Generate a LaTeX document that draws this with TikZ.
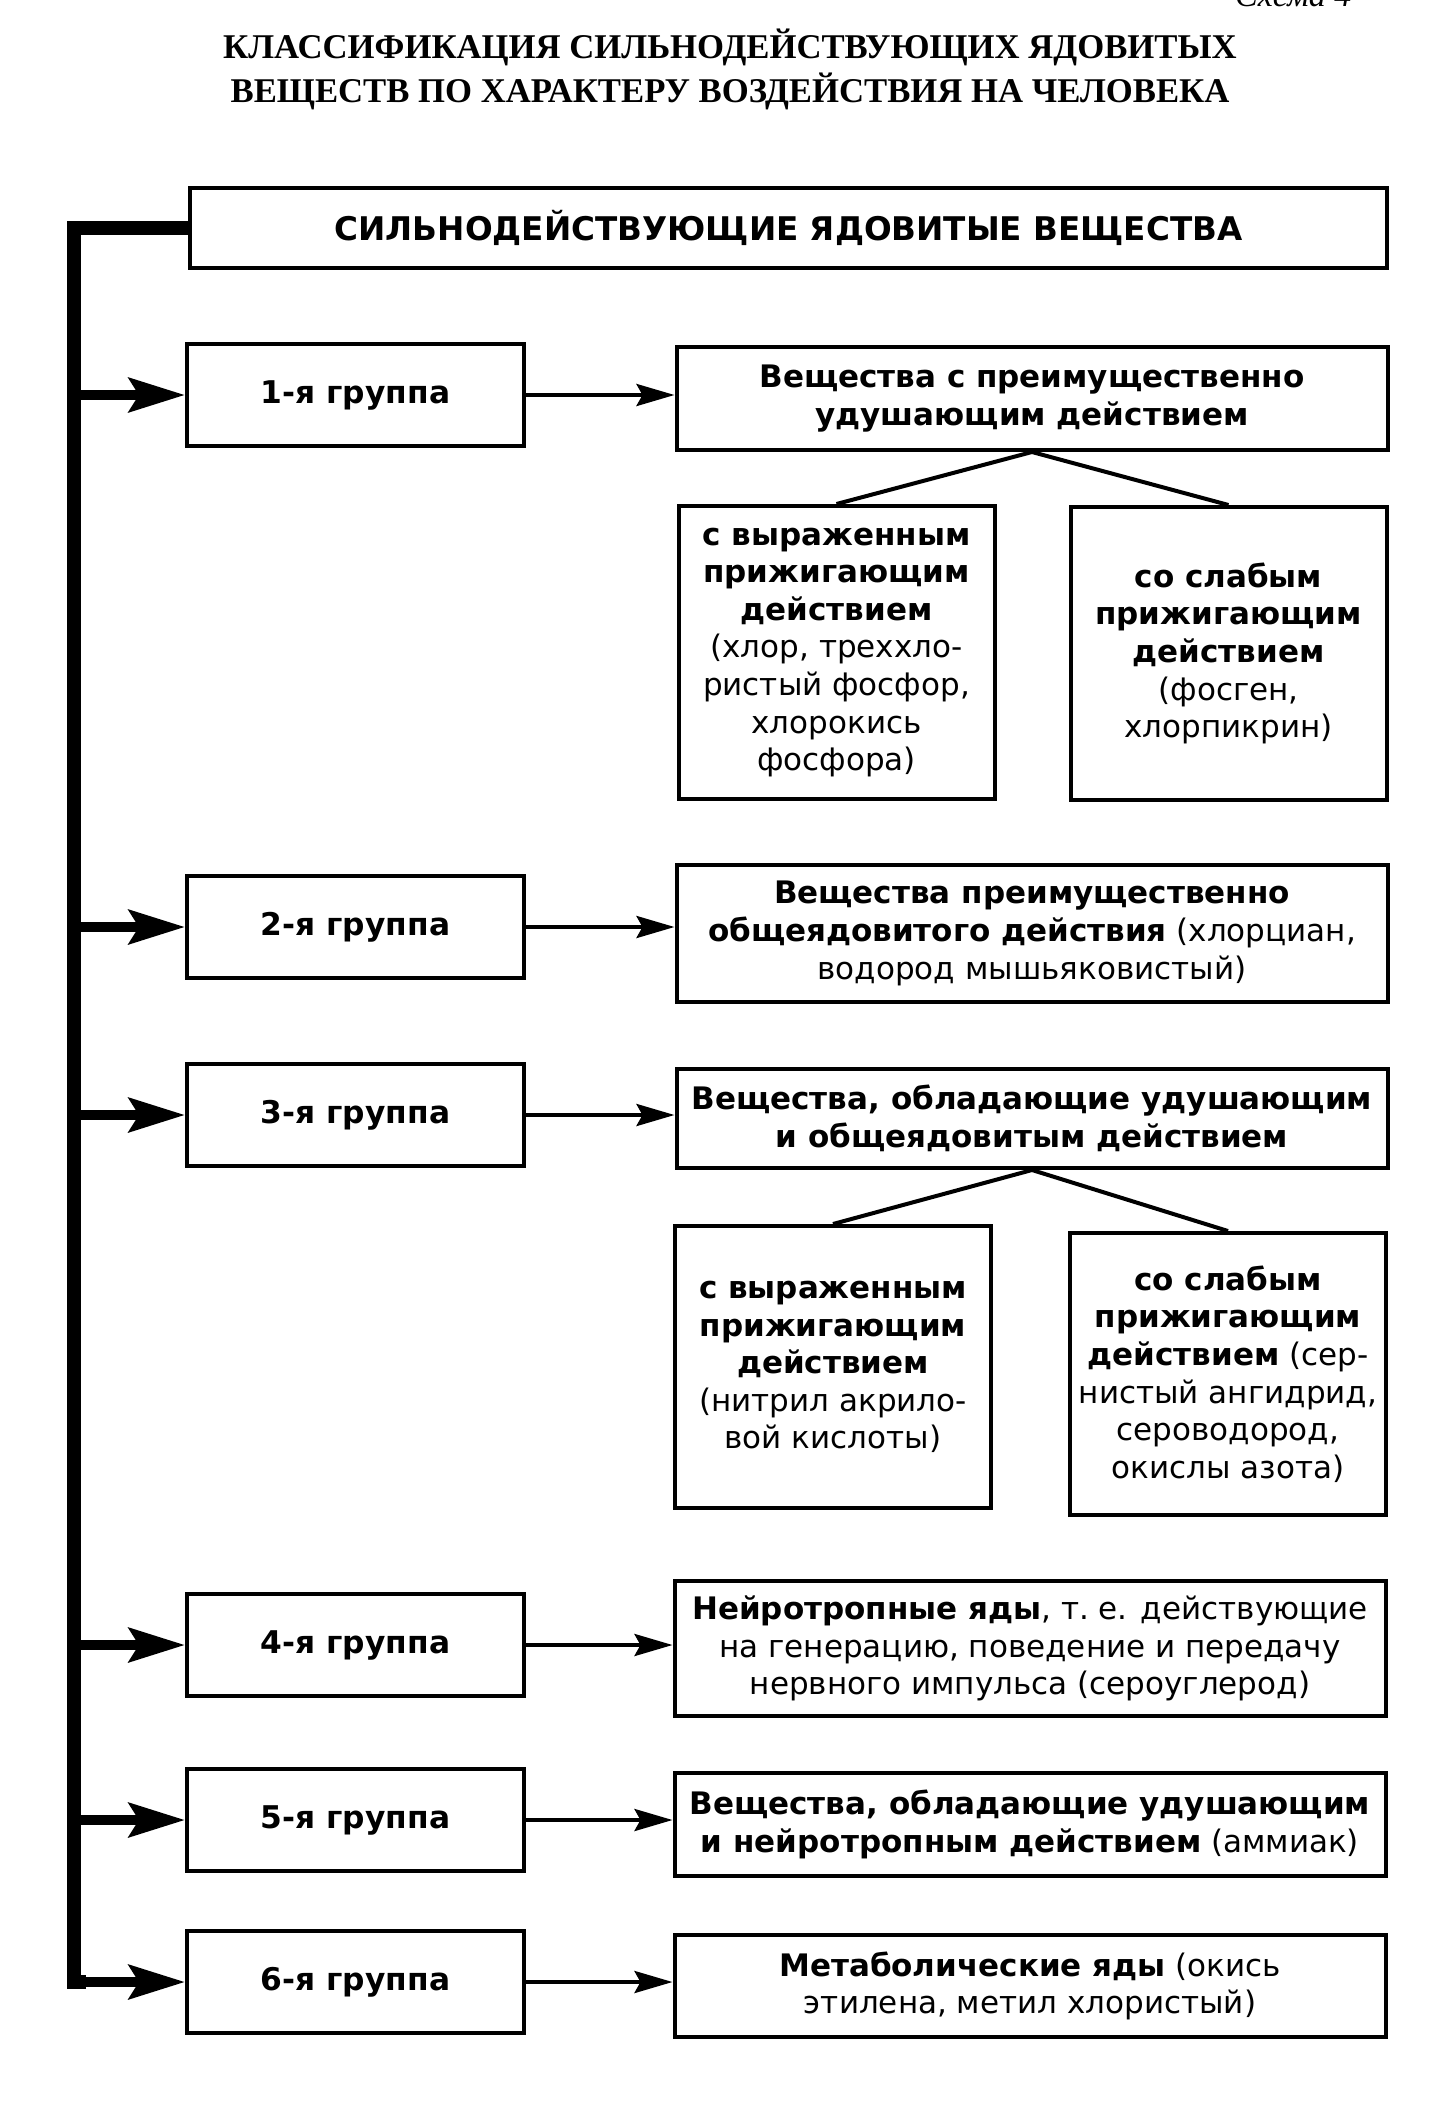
\documentclass[tikz,border=0pt]{standalone}
\usepackage{fontspec}
\setmainfont{Liberation Serif}
\newfontfamily\bodyfont{DejaVu Sans}
\usetikzlibrary{arrows.meta}
\tikzset{
  box/.style={draw, line width=4pt, align=center, inner sep=0pt,
    font=\bodyfont\fontsize{31}{37.6}\selectfont},
  grp/.style={box, minimum width=337pt, minimum height=102pt, font=\bodyfont\bfseries\fontsize{31.3}{36}\selectfont},
  desc/.style={box, minimum width=711pt},
  sub/.style={box, minimum width=316pt, minimum height=284pt},
  busline/.style={line width=14pt, line join=miter},
  bigarrow/.style={line width=10pt, -{Stealth[length=56pt,width=34pt,inset=10pt]}},
  thinarrow/.style={line width=4pt, -{Stealth[length=38pt,width=22pt,inset=6pt]}},
  branch/.style={line width=4pt},
  ttl/.style={font=\bfseries\fontsize{34.7}{42}\selectfont, inner sep=0pt}
}
\begin{document}
\begin{tikzpicture}[x=1pt,y=-1pt]
\useasboundingbox (0,0) rectangle (1450,2102);
\node[anchor=base west, font=\itshape\fontsize{34}{40}\selectfont, inner sep=0pt] (schema) at (1235,6) {Схема 4};
\node[ttl] (t1) at (730,47) {КЛАССИФИКАЦИЯ СИЛЬНОДЕЙСТВУЮЩИХ ЯДОВИТЫХ};
\node[ttl] (t2) at (730,91) {ВЕЩЕСТВ ПО ХАРАКТЕРУ ВОЗДЕЙСТВИЯ НА ЧЕЛОВЕКА};

\node[box, minimum width=1197pt, minimum height=80pt, font=\bodyfont\bfseries\fontsize{32.6}{40}\selectfont] (main) at (788.5,228) {СИЛЬНОДЕЙСТВУЮЩИЕ ЯДОВИТЫЕ ВЕЩЕСТВА};

\node[grp] (g1) at (355.5,395) {1-я группа};
\node[grp] (g2) at (355.5,927) {2-я группа};
\node[grp] (g3) at (355.5,1115) {3-я группа};
\node[grp] (g4) at (355.5,1645) {4-я группа};
\node[grp] (g5) at (355.5,1820) {5-я группа};
\node[grp] (g6) at (355.5,1982) {6-я группа};

\node[desc, minimum height=103pt] (d1) at (1032,398.5) {\bfseries Вещества с преимущественно\\\bfseries удушающим действием};
\node[desc, minimum height=137pt] (d2) at (1032,933.5) {\bfseries Вещества преимущественно\\\textbf{общеядовитого действия} (хлорциан,\\водород мышьяковистый)};
\node[desc, minimum height=99pt] (d3) at (1032,1118.5) {\bfseries Вещества, обладающие удушающим\\\bfseries и общеядовитым действием};
\node[desc, minimum height=135pt] (d4) at (1030,1648.5) {\textbf{Нейротропные яды}, т.~е. действующие\\на генерацию, поведение и передачу\\нервного импульса (сероуглерод)};
\node[desc, minimum height=103pt] (d5) at (1030,1824.5) {\bfseries Вещества, обладающие удушающим\\\textbf{и нейротропным действием} (аммиак)};
\node[desc, minimum height=102pt] (d6) at (1030,1986) {\textbf{Метаболические яды} (окись\\этилена, метил хлористый)};

\node[sub, minimum height=293pt] (s1l) at (836.5,652.5) {\bfseries с выраженным\\\bfseries прижигающим\\\bfseries действием\\(хлор, треххло-\\ристый фосфор,\\хлорокись\\фосфора)};
\node[sub, minimum height=293pt] (s1r) at (1228.5,653.5) {\bfseries со слабым\\\bfseries прижигающим\\\bfseries действием\\(фосген,\\хлорпикрин)};
\node[sub, minimum height=282pt] (s3l) at (833,1367) {\bfseries с выраженным\\\bfseries прижигающим\\\bfseries действием\\(нитрил акрило-\\вой кислоты)};
\node[sub, minimum height=282pt] (s3r) at (1228,1374) {\bfseries со слабым\\\bfseries прижигающим\\\textbf{действием} (сер-\\нистый ангидрид,\\сероводород,\\окислы азота)};

\coordinate (busend) at (74,1982);
\draw[busline] (main.west) -| (busend) -- ++(12,0);
\draw[bigarrow] ([xshift=4pt]busend) -- (g6.west);
\foreach \g in {g1,g2,g3,g4,g5}{
  \draw[bigarrow] (\g.west -| busend) -- (\g.west);
}
\foreach \g/\d in {g1/d1,g2/d2,g3/d3,g4/d4,g5/d5,g6/d6}{
  \draw[thinarrow] (\g.east) -- (\g.east -| \d.west);
}
\draw[branch] (s1l.north) -- (d1.south) -- (s1r.north);
\draw[branch] (s3l.north) -- (d3.south) -- (s3r.north);
\end{tikzpicture}
\end{document}
